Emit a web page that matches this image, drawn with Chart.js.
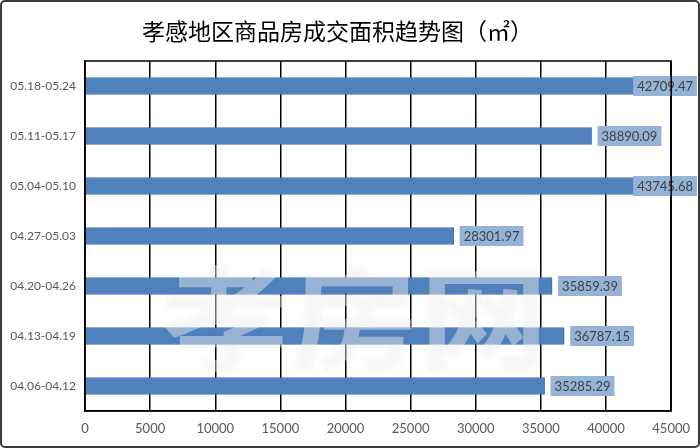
<!DOCTYPE html>
<html>
<head>
<meta charset="utf-8">
<script src="https://cdn.jsdelivr.net/npm/chart.js@4/dist/chart.umd.min.js"></script>
<style>
  html, body { margin: 0; padding: 0; background: #fff; }
  #wrap { width: 700px; height: 448px; position: relative; }
</style>
</head>
<body>
<div id="wrap"><canvas id="areaChart" width="700" height="448"></canvas></div>
<script>
// weeks, top to bottom as shown
var weeks = ['05.18-05.24', '05.11-05.17', '05.04-05.10', '04.27-05.03', '04.20-04.26', '04.13-04.19', '04.06-04.12'];
// deal area (m2)
var dealArea = [42709.47, 38890.09, 43745.68, 28301.97, 35859.39, 36787.15, 35285.29];
var xTicks = [0, 5000, 10000, 15000, 20000, 25000, 30000, 35000, 40000, 45000];
var chartTitle = '孝感地区商品房成交面积趋势图（㎡）';
var watermark = '孝房网';

// frame + white background
var framePlugin = {
  id: 'frame',
  beforeDraw: function(chart) {
    var ctx = chart.ctx;
    ctx.save();
    ctx.fillStyle = '#fff';
    ctx.fillRect(0, 0, chart.width, chart.height);
    ctx.restore();
  },
  afterDraw: function(chart) {
    var ctx = chart.ctx, a = chart.chartArea;
    ctx.save();
    // plot border
    ctx.strokeStyle = '#000';
    ctx.lineWidth = 1.5;
    ctx.strokeRect(a.left, a.top, a.right - a.left, a.bottom - a.top);
    // outer frame
    ctx.strokeStyle = '#3a3a3a';
    ctx.lineWidth = 2;
    ctx.beginPath();
    ctx.roundRect(1, 1, chart.width - 2, chart.height - 2, 4);
    ctx.stroke();
    ctx.restore();
  }
};

// watermark + value boxes
var labelPlugin = {
  id: 'valueBoxes',
  afterDatasetsDraw: function(chart) {
    var ctx = chart.ctx;
    ctx.save();
    ctx.translate(355, 318);
    ctx.scale(1.15, 1);
    ctx.font = 'bold 112px "Noto Sans CJK SC"';
    ctx.textAlign = 'center';
    ctx.textBaseline = 'middle';
    ctx.shadowColor = 'rgba(120,120,120,0.25)';
    ctx.shadowBlur = 4;
    ctx.fillStyle = 'rgba(255,255,255,0.4)';
    ctx.fillText(watermark, 0, 0);
    ctx.restore();

    var meta = chart.getDatasetMeta(0);
    ctx.save();
    ctx.font = '13px Lato';
    ctx.textBaseline = 'middle';
    meta.data.forEach(function(bar, i) {
      var txt = dealArea[i].toFixed(2);
      var w = ctx.measureText(txt).width + 8;
      var x = bar.x + 6;
      // labels that would run off the frame are pulled back (like Excel does)
      if (x + w > 697) x = 697 - w;
      ctx.fillStyle = 'rgb(149,179,215)';
      ctx.fillRect(x, bar.y - 10, w, 20);
      ctx.fillStyle = '#404040';
      ctx.fillText(txt, x + 4, bar.y + 1);
    });
    ctx.restore();
  }
};

var ctx = document.getElementById('areaChart').getContext('2d');
var areaChart = new Chart(ctx, {
  type: 'bar',
  data: {
    labels: weeks,
    datasets: [{
      data: dealArea,
      backgroundColor: '#4F81BD',
      borderColor: '#3d6ea8',
      borderWidth: 1,
      barThickness: 17
    }]
  },
  options: {
    indexAxis: 'y',
    responsive: false,
    animation: false,
    layout: { padding: { left: 0, right: 25, top: 0, bottom: 0 } },
    plugins: {
      legend: { display: false },
      tooltip: { enabled: false },
      title: {
        display: true,
        text: chartTitle,
        color: '#000',
        font: { family: '"Noto Sans CJK SC"', size: 23, weight: 'normal' },
        padding: { top: 17, bottom: 16.4 }
      }
    },
    scales: {
      x: {
        min: 0,
        max: 45000,
        afterBuildTicks: function(scale) {
          scale.ticks = xTicks.map(function(v) { return { value: v }; });
        },
        afterFit: function(scale) { scale.height = 37; },
        grid: { color: '#000', lineWidth: 1.5, drawTicks: false },
        border: { color: '#000', width: 1.5 },
        ticks: {
          color: '#595959',
          font: { family: 'Lato', size: 13 },
          padding: 10,
          maxRotation: 0,
          callback: function(v) { return String(v); }
        }
      },
      y: {
        afterFit: function(scale) { scale.width = 85; },
        grid: { display: false, drawTicks: false },
        border: { color: '#000', width: 1.5 },
        ticks: { color: '#595959', font: { family: 'Lato', size: 12 }, padding: 9 }
      }
    }
  },
  plugins: [framePlugin, labelPlugin]
});
</script>
</body>
</html>
